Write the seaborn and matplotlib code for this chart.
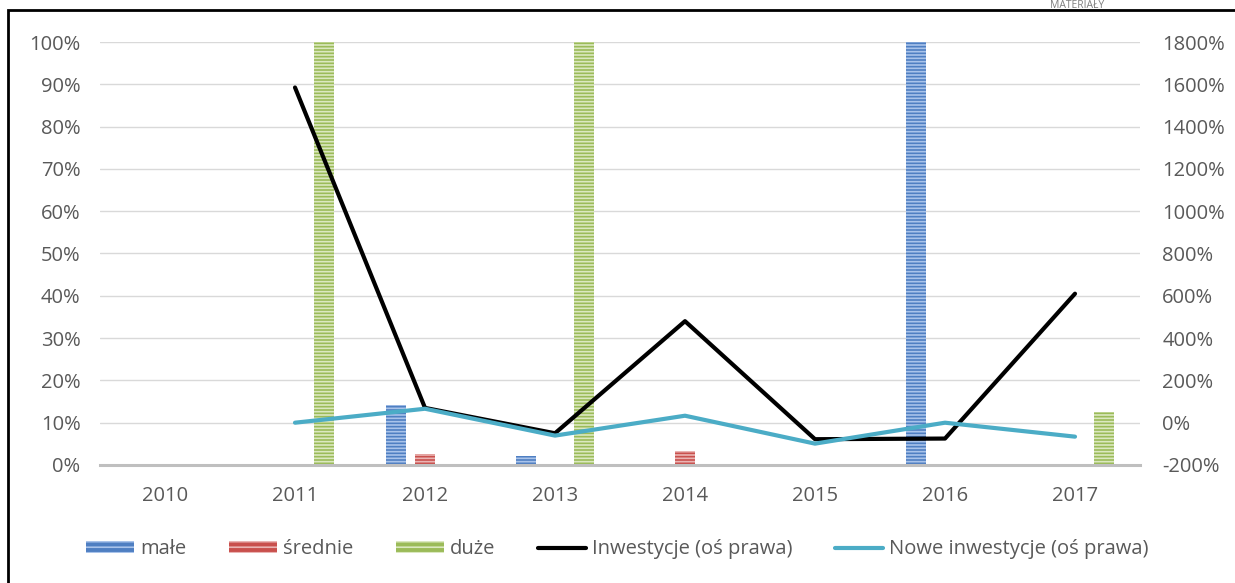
import numpy as np
import pandas as pd
import matplotlib
matplotlib.use("Agg")
import matplotlib.pyplot as plt
import seaborn as sns
from matplotlib.patches import Patch, Rectangle
from matplotlib.lines import Line2D
from matplotlib.ticker import FuncFormatter, MultipleLocator

years = ["2010", "2011", "2012", "2013", "2014", "2015", "2016", "2017"]
male = [0, 0, 14.2, 2.2, 0, 0, 100, 0]
srednie = [0, 0, 2.5, 0, 3.4, 0, 0, 0]
duze = [0, 100, 0, 100, 0, 0, 0, 12.5]
inwestycje = [np.nan, 1585, 70, -50, 480, -78, -75, 610]
nowe_inwestycje = [np.nan, 0, 66, -61, 33, -99, 0, -66]

bar_names = ["małe", "średnie", "duże"]
line_names = ["Inwestycje (oś prawa)", "Nowe inwestycje (oś prawa)"]

bar_face = {"małe": "#4f7fc2", "średnie": "#c9504d", "duże": "#9bbb59"}
bar_hatch = {"małe": "#a9c3ea", "średnie": "#eab4b3", "duże": "#dbe8c0"}
line_colors = {line_names[0]: "#000000", line_names[1]: "#4bacc6"}

sns.set_theme(style="white")
plt.rcParams["font.family"] = ["Open Sans", "DejaVu Sans"]
plt.rcParams["hatch.linewidth"] = 1.2

FS = 14.5

fig = plt.figure(figsize=(12.35, 5.83), dpi=100)
ax = fig.add_axes([100 / 1235, 1 - 465 / 583, 1040 / 1235, 423 / 583])

bars_df = pd.DataFrame({
    "year": years * 3,
    "value": male + srednie + duze,
    "grupa": [bar_names[0]] * 8 + [bar_names[1]] * 8 + [bar_names[2]] * 8,
})
sns.barplot(data=bars_df, x="year", y="value", hue="grupa", hue_order=bar_names,
            palette=bar_face, width=0.67, gap=0.28, ax=ax, legend=False,
            linewidth=0, saturation=1)
for cont, name in zip(ax.containers, bar_names):
    for p in cont.patches:
        p.set_hatch("-----")
        p.set_edgecolor(bar_hatch[name])
        p.set_linewidth(0)

ax.set_ylim(0, 100)
ax.set_xlim(-0.5, 7.5)
ax.yaxis.set_major_locator(MultipleLocator(10))
ax.yaxis.set_major_formatter(FuncFormatter(lambda v, p: f"{v:.0f}%"))
ax.grid(axis="y", color="#d9d9d9", linewidth=1)
ax.set_axisbelow(True)
ax.set_xlabel("")
ax.set_ylabel("")

ax2 = ax.twinx()
lines_df = pd.DataFrame({
    "x": list(range(8)) * 2,
    "value": inwestycje + nowe_inwestycje,
    "seria": [line_names[0]] * 8 + [line_names[1]] * 8,
})
sns.lineplot(data=lines_df, x="x", y="value", hue="seria", hue_order=line_names,
             palette=line_colors, linewidth=3, ax=ax2, legend=False)
ax2.set_ylim(-200, 1800)
ax2.yaxis.set_major_locator(MultipleLocator(200))
ax2.yaxis.set_major_formatter(FuncFormatter(lambda v, p: f"{v:.0f}%"))
ax2.set_xlim(-0.5, 7.5)
ax2.set_xlabel("")
ax2.set_ylabel("")

for a in (ax, ax2):
    for s in a.spines.values():
        s.set_visible(False)
    a.tick_params(length=0, labelsize=FS, labelcolor="#595959")
ax.spines["bottom"].set_visible(True)
ax.spines["bottom"].set_color("#bfbfbf")
ax.spines["bottom"].set_linewidth(2.2)
ax.tick_params(axis="y", pad=14)
ax.tick_params(axis="x", pad=15)
ax2.tick_params(axis="y", pad=16)

handles = [Patch(facecolor=bar_face[n], edgecolor=bar_hatch[n], hatch="---", linewidth=0, label=n)
           for n in bar_names]
handles += [Line2D([], [], color=line_colors[n], linewidth=3, label=n) for n in line_names]
fig.legend(handles=handles, loc="center", bbox_to_anchor=(0.5, 1 - 549 / 583), ncol=5,
           frameon=False, fontsize=FS, handlelength=2.4, handleheight=0.5,
           handletextpad=0.3, columnspacing=2.1, labelcolor="#595959")

# outer black border
fig.patches.append(Rectangle((8 / 1235, -0.05), 1.1, 1 - 10 / 583 + 0.05,
                             transform=fig.transFigure, fill=False,
                             edgecolor="black", linewidth=2, clip_on=False))
fig.text(1077 / 1235, 1.0, "MATERIAŁY", ha="center", va="top",
         fontsize=7.5, color="#7f7f7f")

fig.savefig("out.png", dpi=100)
